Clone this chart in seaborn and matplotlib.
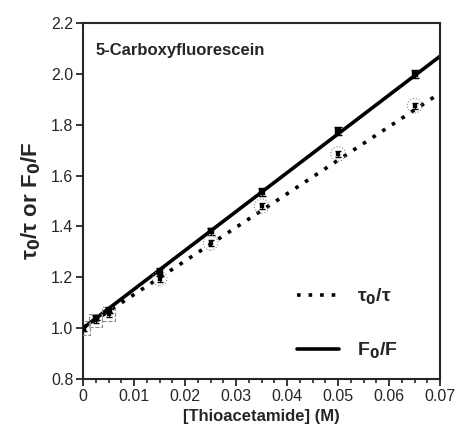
import matplotlib
matplotlib.use("Agg")
import matplotlib.pyplot as plt
import pandas as pd
import seaborn as sns
from matplotlib.ticker import MultipleLocator

# data
conc = [0.0, 0.0025, 0.005, 0.015, 0.025, 0.035, 0.05, 0.065]
tau_ratio = [1.0, 1.03, 1.055, 1.195, 1.335, 1.48, 1.685, 1.875]
f_ratio = [1.0, 1.04, 1.07, 1.22, 1.38, 1.535, 1.775, 2.0]
tau_err = [0.01, 0.01, 0.01, 0.012, 0.012, 0.012, 0.012, 0.012]
f_err = [0.01, 0.01, 0.01, 0.015, 0.015, 0.015, 0.015, 0.015]

fit_x = [0.0, 0.07]
fit_tau = [1.0, 1.925]
fit_f = [1.0, 2.07]

sns.set_style("ticks")
plt.rcParams["font.family"] = ["Liberation Sans", "DejaVu Sans"]
plt.rcParams["mathtext.default"] = "bf"

pts = pd.DataFrame({"conc": conc, "tau": tau_ratio, "F": f_ratio})
fits = pd.DataFrame({"x": fit_x, "tau": fit_tau, "F": fit_f})

fig = plt.figure(figsize=(4.59, 4.36), dpi=100)
ax = fig.add_axes([0.181, 0.131, 0.778, 0.816])

# fitted lines
sns.lineplot(data=fits, x="x", y="tau", ax=ax, color="black",
             linestyle=(0, (1, 2.2)), linewidth=2.6, label="τ$_0$/τ")
sns.lineplot(data=fits, x="x", y="F", ax=ax, color="black",
             linewidth=2.6, label="F$_0$/F")

# measured points
ax.errorbar(conc, tau_ratio, yerr=tau_err, fmt="none", ecolor="black",
            elinewidth=0.8, capsize=2.5)
ax.errorbar(conc, f_ratio, yerr=f_err, fmt="none", ecolor="black",
            elinewidth=0.8, capsize=3)
ax.scatter(conc[3:], tau_ratio[3:], marker="o", s=110, facecolors="none",
           edgecolors="#8a8a8a", linewidths=0.8, linestyles=":", zorder=3)
ax.scatter(conc[:3], tau_ratio[:3], marker="s", s=90, facecolors="none",
           edgecolors="#8a8a8a", linewidths=0.8, linestyles="--", zorder=3)
sns.scatterplot(data=pts, x="conc", y="tau", ax=ax, marker="s", s=10,
                color="black", edgecolor="black", zorder=4)
sns.scatterplot(data=pts, x="conc", y="F", ax=ax, marker="s", s=14,
                color="black", edgecolor="black", zorder=4)

ax.set_xlim(0, 0.07)
ax.set_ylim(0.8, 2.2)
ax.xaxis.set_minor_locator(MultipleLocator(0.0025))
ax.set_xticks([0, 0.01, 0.02, 0.03, 0.04, 0.05, 0.06, 0.07])
ax.set_xticklabels(["0", "0.01", "0.02", "0.03", "0.04", "0.05", "0.06", "0.07"])
ax.set_yticks([0.8, 1.0, 1.2, 1.4, 1.6, 1.8, 2.0, 2.2])
ax.set_yticklabels(["0.8", "1.0", "1.2", "1.4", "1.6", "1.8", "2.0", "2.2"])
ax.tick_params(axis="both", which="major", labelsize=11.5, length=5,
               width=1.3, direction="out", pad=2)
ax.tick_params(axis="x", which="minor", length=3, width=1.2)
ax.tick_params(axis="y", which="minor", length=0)
for s in ax.spines.values():
    s.set_linewidth(1.5)

ax.set_xlabel("[Thioacetamide] (M)", fontsize=12, fontweight="bold")
ax.set_ylabel("τ$_0$/τ or F$_0$/F", fontsize=16, fontweight="bold",
              labelpad=6)

ax.text(0.035, 0.945, "5-Carboxyfluorescein", transform=ax.transAxes,
        fontsize=12, fontweight="bold", va="top")

ax.legend(loc="lower right", bbox_to_anchor=(0.93, 0.0),
          frameon=False, prop={"size": 14, "weight": "bold"},
          handlelength=2.2, labelspacing=1.75, handletextpad=0.9)

fig.savefig("out.png", dpi=100)
